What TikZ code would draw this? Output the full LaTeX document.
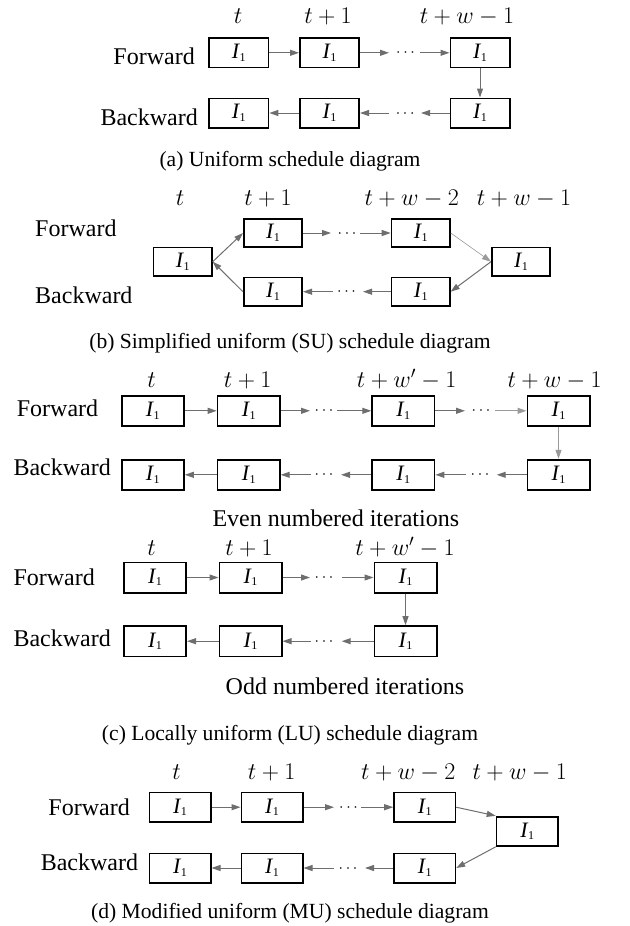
\RequirePackage{fix-cm}
\documentclass[tikz,border=0pt]{standalone}
\usepackage{fontspec}
\setmainfont{Liberation Serif}
\usetikzlibrary{arrows.meta}
\definecolor{arrgray}{HTML}{6E6E6E}
\definecolor{lightgray}{HTML}{9A9A9A}
\newcommand{\Ione}{{\fontsize{22}{22}\selectfont\itshape I}\kern0.3pt\raisebox{-2.5pt}{\fontsize{12}{12}\selectfont 1}}
\tikzset{
  blk/.style={draw=black, line width=1.7pt, inner sep=0pt, fill=white},
  blka/.style={blk, minimum width=59.3pt, minimum height=29.3pt},
  blkb/.style={blk, minimum width=58.3pt, minimum height=28.3pt},
  blkc/.style={blk, minimum width=62.3pt, minimum height=30.3pt},
  blkd/.style={blk, minimum width=61.3pt, minimum height=29.3pt},
  arr/.style={draw=arrgray, line width=1pt, -{Triangle[length=9pt,width=6pt]}},
  lab/.style={inner sep=0pt, anchor=base, font=\fontsize{24}{24}\selectfont},
  side/.style={inner sep=0pt, font=\fontsize{24}{24}\selectfont},
  capt/.style={inner sep=0pt, anchor=base, font=\fontsize{21.6}{21.6}\selectfont},
  dotsn/.style={inner sep=0pt, anchor=base, font=\fontsize{16}{16}\selectfont},
}
\begin{document}
\begin{tikzpicture}[x=1pt,y=-1pt]
\useasboundingbox (0,0) rectangle (629,926);
% ---------------- panel (a)
\node[lab] (lat) at (238,23.3) {$t$};
\node[lab] (lat1) at (328,23.3) {$t+1$};
\node[lab] (latw) at (467,23.3) {$t+w-1$};
\node[side, anchor=base east] (afw) at (195,64.5) {Forward};
\node[side, anchor=base east] (abw) at (198,125) {Backward};
\node[blka] (a1) at (238.8,52.8) {\Ione};
\node[blka] (a2) at (329.5,52.8) {\Ione};
\node[blka] (a3) at (480,52.8) {\Ione};
\node[blka] (a4) at (238.8,113) {\Ione};
\node[blka] (a5) at (329.5,113) {\Ione};
\node[blka] (a6) at (480,113) {\Ione};
\draw[arr] (a1) -- (a2);
\coordinate (af1) at (389,52.8);
\coordinate (af2) at (420,52.8);
\draw[arr] (a2) -- (af1);
\node[dotsn] (adf) at (405.5,56.8) {$\cdots$};
\draw[arr] (af2) -- (a3);
\draw[arr] (a3) -- (a6);
\draw[arr] (a5) -- (a4);
\coordinate (ab1) at (389,113);
\coordinate (ab2) at (421,113);
\draw[arr] (ab1) -- (a5);
\node[dotsn] (adb) at (405.2,117) {$\cdots$};
\draw[arr] (a6) -- (ab2);
\node[capt] (capa) at (290,166.5) {(a) Uniform schedule diagram};
% ---------------- panel (b)
\node[lab] (lbt) at (180,205) {$t$};
\node[lab] (lbt1) at (268,205) {$t+1$};
\node[lab] (lbtw2) at (411.7,205) {$t+w-2$};
\node[lab] (lbtw1) at (524,205) {$t+w-1$};
\node[side, anchor=base west] (bfw) at (35,236.7) {Forward};
\node[side, anchor=base west] (bbw) at (35,303.3) {Backward};
\node[blkb] (b1) at (182.7,261.7) {\Ione};
\node[blkb] (b2) at (273,233) {\Ione};
\node[blkb] (b3) at (420.7,233) {\Ione};
\node[blkb] (b4) at (521,261.7) {\Ione};
\node[blkb] (b5) at (273,291.7) {\Ione};
\node[blkb] (b6) at (420.7,291.7) {\Ione};
\draw[arr] (b1.east) -- (b2.west);
\draw[arr] (b5.west) -- (b1.east);
\coordinate (bf1) at (331,233);
\coordinate (bf2) at (360,233);
\draw[arr] (b2) -- (bf1);
\node[dotsn] (bdf) at (347,237) {$\cdots$};
\draw[arr] (bf2) -- (b3);
\draw[arr, draw=lightgray, line width=0.6pt] (b3.east) -- (b4.west);
\draw[arr] (b4.west) -- (b6.east);
\coordinate (bb1) at (333,291.7);
\coordinate (bb2) at (363,291.7);
\draw[arr] (bb1) -- (b5);
\node[dotsn] (bdb) at (346.5,295.7) {$\cdots$};
\draw[arr] (b6) -- (bb2);
\node[capt] (capb) at (290,348) {(b) Simplified uniform (SU) schedule diagram};
% ---------------- panel (c) even
\node[lab] (lct) at (151.6,387) {$t$};
\node[lab] (lct1) at (247.7,387) {$t+1$};
\node[lab] (lctwp) at (406.6,387) {$t+w'-1$};
\node[lab] (lctw) at (554.6,387) {$t+w-1$};
\node[side, anchor=base west] (cfw) at (16.7,416) {Forward};
\node[side, anchor=base west] (cbw) at (13.3,475) {Backward};
\node[blkc] (c1) at (152.8,410.8) {\Ione};
\node[blkc] (c2) at (248.7,410.8) {\Ione};
\node[blkc] (c3) at (403.3,410.8) {\Ione};
\node[blkc] (c4) at (558.5,410.8) {\Ione};
\node[blkc] (c5) at (152.8,474.8) {\Ione};
\node[blkc] (c6) at (248.7,474.8) {\Ione};
\node[blkc] (c7) at (403.3,474.8) {\Ione};
\node[blkc] (c8) at (558.5,474.8) {\Ione};
\draw[arr] (c1) -- (c2);
\coordinate (cf1) at (310,410.8);
\coordinate (cf2) at (337,410.8);
\draw[arr] (c2) -- (cf1);
\node[dotsn] (cdf1) at (324,414.8) {$\cdots$};
\draw[arr] (cf2) -- (c3);
\coordinate (cf3) at (465,410.8);
\coordinate (cf4) at (495,410.8);
\draw[arr] (c3) -- (cf3);
\node[dotsn] (cdf2) at (481,414.8) {$\cdots$};
\draw[arr, draw=lightgray] (cf4) -- (c4);
\draw[arr, draw=lightgray] (c4) -- (c8);
\draw[arr] (c6) -- (c5);
\coordinate (cb1) at (311,474.8);
\coordinate (cb2) at (341,474.8);
\draw[arr] (cb1) -- (c6);
\node[dotsn] (cdb1) at (324,478.8) {$\cdots$};
\draw[arr] (c7) -- (cb2);
\coordinate (cb3) at (466,474.8);
\coordinate (cb4) at (496.7,474.8);
\draw[arr] (cb3) -- (c7);
\node[dotsn] (cdb2) at (480,478.8) {$\cdots$};
\draw[arr] (c8) -- (cb4);
\node[side, anchor=base] (even) at (335.8,526) {Even numbered iterations};
% ---------------- panel (c) odd
\node[lab] (let) at (151.5,555) {$t$};
\node[lab] (let1) at (249,555) {$t+1$};
\node[lab] (letwp) at (405,555) {$t+w'-1$};
\node[side, anchor=base west] (efw) at (13.3,585) {Forward};
\node[side, anchor=base west] (ebw) at (13.3,646.7) {Backward};
\node[blkc] (e1) at (155,577.5) {\Ione};
\node[blkc] (e2) at (250.5,577.5) {\Ione};
\node[blkc] (e3) at (405.5,577.5) {\Ione};
\node[blkc] (e4) at (155,641.2) {\Ione};
\node[blkc] (e5) at (250.5,641.2) {\Ione};
\node[blkc] (e6) at (405.5,641.2) {\Ione};
\draw[arr] (e1) -- (e2);
\coordinate (ef1) at (310,577.5);
\coordinate (ef2) at (341.7,577.5);
\draw[arr] (e2) -- (ef1);
\node[dotsn] (edf) at (324,581.5) {$\cdots$};
\draw[arr] (ef2) -- (e3);
\draw[arr] (e3) -- (e6);
\draw[arr] (e5) -- (e4);
\coordinate (eb1) at (311,641.2);
\coordinate (eb2) at (341.7,641.2);
\draw[arr] (eb1) -- (e5);
\node[dotsn] (edb) at (324,645.2) {$\cdots$};
\draw[arr] (e6) -- (eb2);
\node[side, anchor=base] (odd) at (345,694) {Odd numbered iterations};
\node[capt] (capc) at (290,740) {(c) Locally uniform (LU) schedule diagram};
% ---------------- panel (d)
\node[lab] (ldt) at (176.7,779) {$t$};
\node[lab] (ldt1) at (271.7,779) {$t+1$};
\node[lab] (ldtw2) at (408.3,779) {$t+w-2$};
\node[lab] (ldtw1) at (519.7,779) {$t+w-1$};
\node[side, anchor=base east] (dfw) at (130,815) {Forward};
\node[side, anchor=base east] (dbw) at (138.3,870) {Backward};
\node[blkd] (f1) at (180,807.2) {\Ione};
\node[blkd] (f2) at (272,807.2) {\Ione};
\node[blkd] (f3) at (424.7,807.2) {\Ione};
\node[blkd] (f4) at (527.2,831.3) {\Ione};
\node[blkd] (f5) at (180,868) {\Ione};
\node[blkd] (f6) at (272,868) {\Ione};
\node[blkd] (f7) at (424.7,868) {\Ione};
\draw[arr] (f1) -- (f2);
\coordinate (ff1) at (334,807.2);
\coordinate (ff2) at (361,807.2);
\draw[arr] (f2) -- (ff1);
\node[dotsn] (fdf) at (348.5,811.2) {$\cdots$};
\draw[arr] (ff2) -- (f3);
\draw[arr] (f3.east) -- (f4.north west);
\draw[arr] (f4.south west) -- (f7.east);
\draw[arr] (f6) -- (f5);
\coordinate (fb1) at (334,868);
\coordinate (fb2) at (365,868);
\draw[arr] (fb1) -- (f6);
\node[dotsn] (fdb) at (348,872) {$\cdots$};
\draw[arr] (f7) -- (fb2);
\node[capt] (capd) at (290,918) {(d) Modified uniform (MU) schedule diagram};
\end{tikzpicture}
\end{document}
